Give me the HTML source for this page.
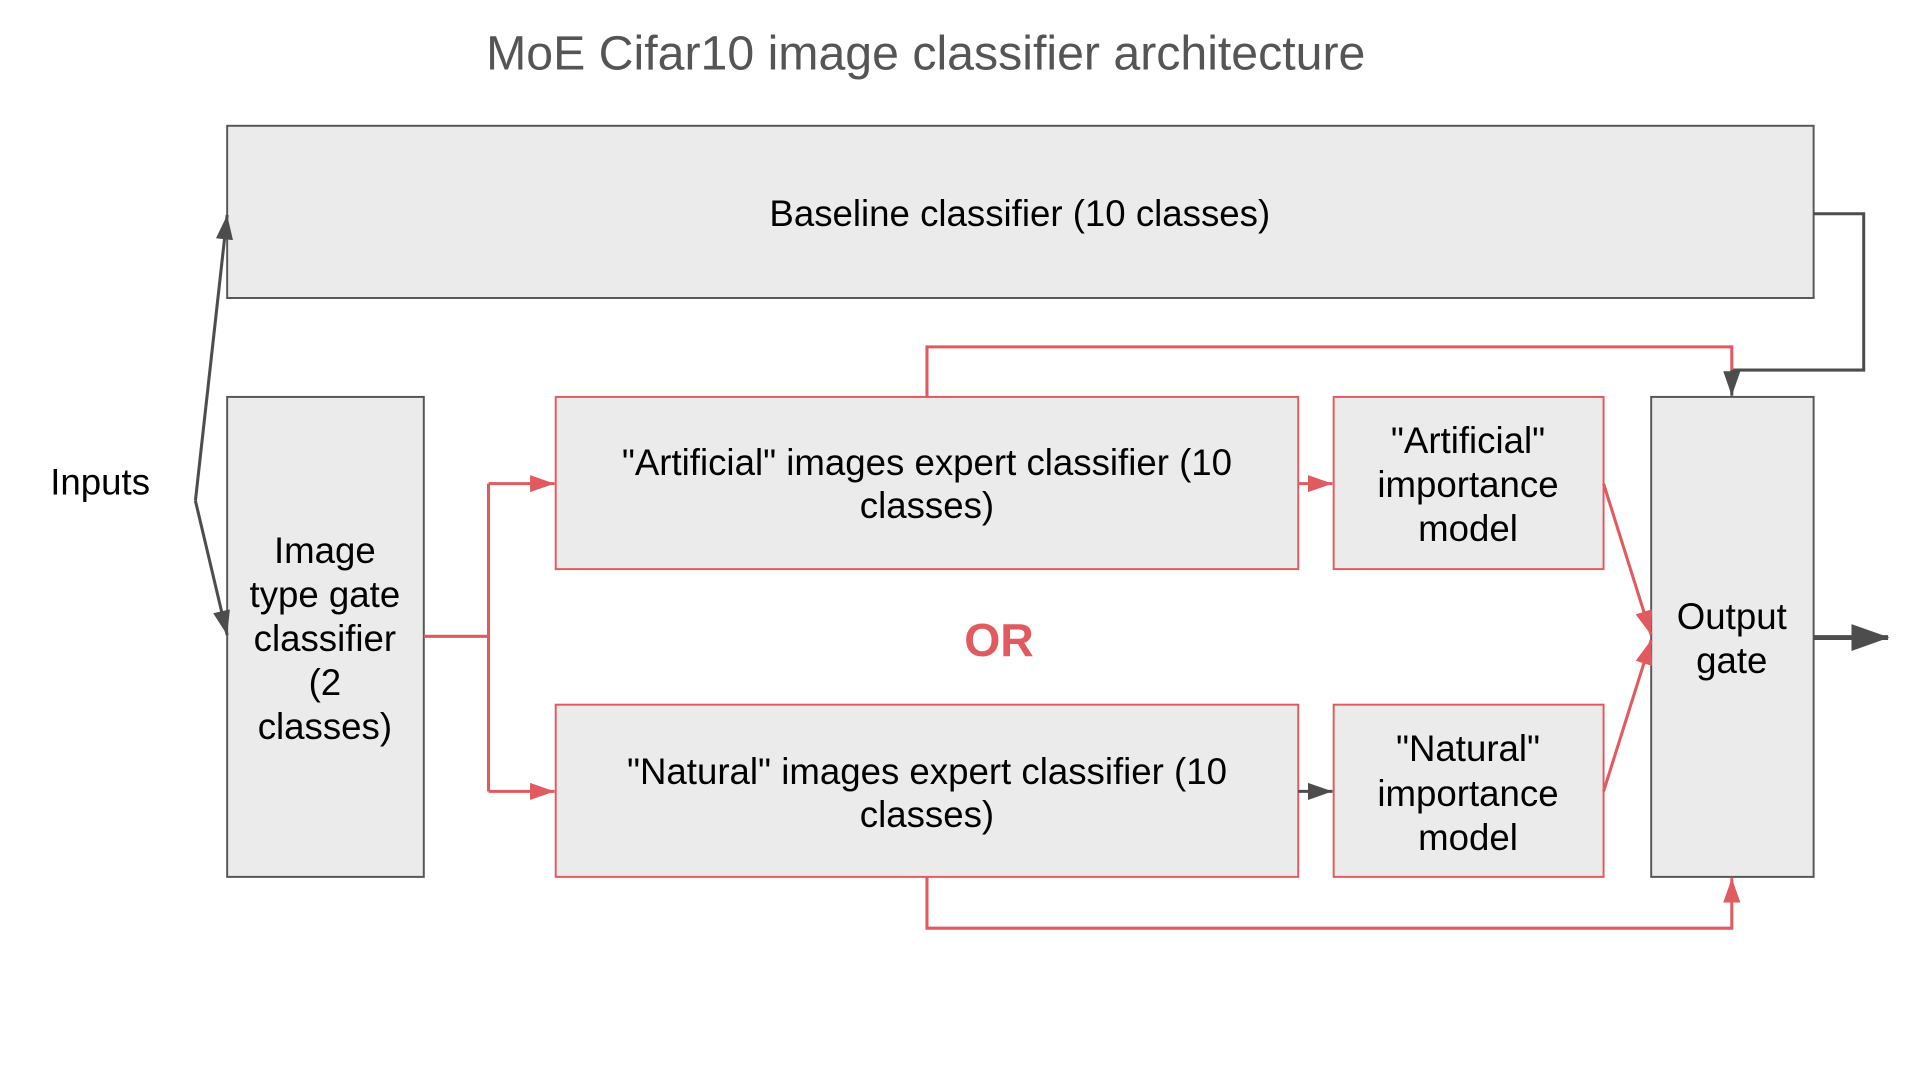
<!DOCTYPE html>
<html><head><meta charset="utf-8"><style>html,body{margin:0;padding:0;background:#fff;}svg{display:block}</style></head>
<body>
<svg width="1915" height="1074" viewBox="0 0 1568 879.4" xmlns="http://www.w3.org/2000/svg" font-family="Liberation Sans, Arial, sans-serif">
<defs>
<marker id="ar" markerWidth="30" markerHeight="30" refX="20" refY="7" orient="auto" markerUnits="userSpaceOnUse" overflow="visible"><path d="M0,0 L20,7 L0,14 z" fill="#e05a5f"/></marker>
<marker id="ag" markerWidth="30" markerHeight="30" refX="20" refY="7" orient="auto" markerUnits="userSpaceOnUse" overflow="visible"><path d="M0,0 L20,7 L0,14 z" fill="#4d4d4d"/></marker>
<marker id="ab" markerWidth="40" markerHeight="40" refX="30" refY="11" orient="auto" markerUnits="userSpaceOnUse" overflow="visible"><path d="M0,0 L31,11 L0,22 z" fill="#4d4d4d"/></marker>
</defs>
<text x="758" y="57" font-size="39.5" fill="#555" text-anchor="middle">MoE Cifar10 image classifier architecture</text>
<g fill="#ebebeb" stroke-width="1.6">
<rect x="186" y="103" width="1299" height="141" stroke="#555"/>
<rect x="186" y="325" width="161" height="393" stroke="#555"/>
<rect x="1352" y="325" width="133" height="393" stroke="#555"/>
<rect x="455" y="325" width="608" height="141" stroke="#e05a5f"/>
<rect x="455" y="577" width="608" height="141" stroke="#e05a5f"/>
<rect x="1092" y="325" width="221" height="141" stroke="#e05a5f"/>
<rect x="1092" y="577" width="221" height="141" stroke="#e05a5f"/>
</g>
<g font-size="30" fill="#000" text-anchor="middle">
<text x="835" y="185">Baseline classifier (10 classes)</text>
<text x="82" y="405">Inputs</text>
<text x="266" y="461">Image</text><text x="266" y="497">type gate</text><text x="266" y="533">classifier</text><text x="266" y="569">(2</text><text x="266" y="605">classes)</text>
<text x="759" y="389">"Artificial" images expert classifier (10</text><text x="759" y="424">classes)</text>
<text x="759" y="642">"Natural" images expert classifier (10</text><text x="759" y="677">classes)</text>
<text x="1202" y="371">"Artificial"</text><text x="1202" y="407">importance</text><text x="1202" y="443">model</text>
<text x="1202" y="623">"Natural"</text><text x="1202" y="660">importance</text><text x="1202" y="696">model</text>
<text x="1418" y="515">Output</text><text x="1418" y="551">gate</text>
</g>
<text x="818" y="537" font-size="38" font-weight="bold" fill="#e05a5f" text-anchor="middle">OR</text>
<g fill="none" stroke="#4d4d4d" stroke-width="2.5">
<line x1="160" y1="410" x2="186" y2="176" marker-end="url(#ag)"/>
<line x1="160" y1="410" x2="186" y2="520" marker-end="url(#ag)"/>
<polyline points="1485,175 1526,175 1526,303 1418,303"/>
<line x1="1418" y1="303" x2="1418" y2="324" marker-end="url(#ag)"/>
<line x1="1063" y1="648" x2="1091" y2="648" marker-end="url(#ag)"/>
<line x1="1485" y1="522" x2="1546" y2="522" stroke-width="4" marker-end="url(#ab)"/>
</g>
<g fill="none" stroke="#e05a5f" stroke-width="2.5">
<polyline points="759,325 759,284 1418,284 1418,303"/>
<polyline points="347,521 400,521"/>
<polyline points="400,396 400,648"/>
<line x1="400" y1="396" x2="454" y2="396" marker-end="url(#ar)"/>
<line x1="400" y1="648" x2="454" y2="648" marker-end="url(#ar)"/>
<line x1="1063" y1="396" x2="1091" y2="396" marker-end="url(#ar)"/>
<line x1="1313" y1="396" x2="1352" y2="520" marker-end="url(#ar)"/>
<line x1="1313" y1="648" x2="1352" y2="524" marker-end="url(#ar)"/>
<polyline points="759,718 759,760 1418,760 1418,719" marker-end="url(#ar)"/>
</g>
</svg>
</body></html>
